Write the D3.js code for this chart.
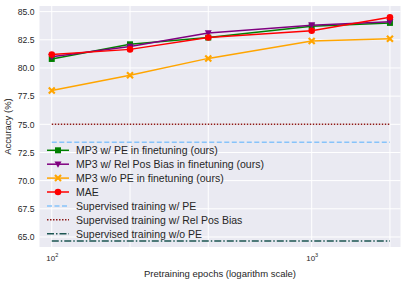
<!DOCTYPE html>
<html>
<head>
<meta charset="utf-8">
<script src="https://cdn.jsdelivr.net/npm/d3@7"></script>
<style>
  body { margin: 0; background: #fff; }
  svg { display: block; font-family: "Liberation Sans", Arial, sans-serif; }
</style>
</head>
<body>
<div id="chart"></div>
<script>
// Data
const epochs = [100, 200, 400, 1000, 2000];
const mp3WithPE = [80.8, 82.1, 82.7, 83.7, 84.0];
const mp3RelPos = [81.0, 81.9, 83.1, 83.8, 84.1];
const mp3NoPE = [78.0, 79.35, 80.85, 82.4, 82.6];
const mae = [81.2, 81.65, 82.7, 83.3, 84.5];
const supervisedPE = 73.4;
const supervisedRelPos = 75.0;
const supervisedNoPE = 64.65;
const yTicks = [65.0, 67.5, 70.0, 72.5, 75.0, 77.5, 80.0, 82.5, 85.0];

const series = [
  { name: 'MP3 w/ PE in finetuning (ours)', values: mp3WithPE, color: 'green', marker: 'square' },
  { name: 'MP3 w/ Rel Pos Bias in finetuning (ours)', values: mp3RelPos, color: 'purple', marker: 'triangleDown' },
  { name: 'MP3 w/o PE in finetuning (ours)', values: mp3NoPE, color: 'orange', marker: 'x' },
  { name: 'MAE', values: mae, color: 'red', marker: 'circle' }
];
const baselines = [
  { name: 'Supervised training w/ PE', value: supervisedPE, color: '#87c3fa', dash: '5,2.5' },
  { name: 'Supervised training w/ Rel Pos Bias', value: supervisedRelPos, color: '#8b1a1a', dash: '1.5,1.5' },
  { name: 'Supervised training w/o PE', value: supervisedNoPE, color: '#1d5652', dash: '7,2,1.5,2' }
];

const width = 407, height = 283;
const margin = { top: 6, right: 6.5, bottom: 36, left: 39.5 };
const w = width - margin.left - margin.right;
const h = height - margin.top - margin.bottom;

const svg = d3.select('#chart').append('svg')
  .attr('width', width)
  .attr('height', height);

const g = svg.append('g')
  .attr('transform', `translate(${margin.left}, ${margin.top})`);

const x = d3.scaleLog()
  .domain([89.7, 2196])
  .range([0, w]);

const y = d3.scaleLinear()
  .domain([64.11, 85.5])
  .range([h, 0]);

// Background
g.append('rect')
  .attr('width', w)
  .attr('height', h)
  .attr('fill', '#eaeaf2');

// Grid
g.selectAll('.hgrid')
  .data(yTicks)
  .enter()
  .append('line')
  .attr('x1', 0).attr('x2', w)
  .attr('y1', d => y(d)).attr('y2', d => y(d))
  .attr('stroke', '#fff')
  .attr('stroke-width', 1);

g.selectAll('.vgrid')
  .data(epochs)
  .enter()
  .append('line')
  .attr('y1', 0).attr('y2', h)
  .attr('x1', d => x(d)).attr('x2', d => x(d))
  .attr('stroke', '#fff')
  .attr('stroke-width', 1);

// Y axis labels
const yAxis = g.append('g')
  .call(d3.axisLeft(y).tickValues(yTicks).tickFormat(d3.format('.1f')).tickSize(0).tickPadding(5));
yAxis.select('.domain').remove();
yAxis.selectAll('text')
  .style('font-size', '8.6px')
  .style('fill', '#262626')
  .style('font-family', '"Liberation Sans", Arial, sans-serif');

// X axis labels (10^2, 10^3)
const xTickVals = [100, 1000];
const xAxis = g.append('g')
  .attr('transform', `translate(0, ${h})`)
  .call(d3.axisBottom(x).tickValues(xTickVals).tickFormat('').tickSize(0));
xAxis.select('.domain').remove();
xAxis.selectAll('.tick').each(function(d) {
  const t = d3.select(this).append('text')
    .attr('y', 14)
    .attr('text-anchor', 'middle')
    .style('font-size', '8px')
    .style('fill', '#262626');
  t.append('tspan').text('10');
  t.append('tspan')
    .attr('dy', -4)
    .style('font-size', '5.5px')
    .text(Math.round(Math.log10(d)));
});

// Axis titles
svg.append('text')
  .attr('x', margin.left + w / 2)
  .attr('y', 277)
  .attr('text-anchor', 'middle')
  .style('font-size', '9.5px')
  .style('fill', '#262626')
  .text('Pretraining epochs (logarithm scale)');

svg.append('text')
  .attr('transform', `translate(11, ${margin.top + h / 2}) rotate(-90)`)
  .attr('text-anchor', 'middle')
  .style('font-size', '9.5px')
  .style('fill', '#262626')
  .text('Accuracy (%)');

// Baselines
const xMin = d3.min(epochs), xMax = d3.max(epochs);
baselines.forEach(b => {
  g.append('line')
    .attr('x1', x(xMin)).attr('x2', x(xMax))
    .attr('y1', y(b.value)).attr('y2', y(b.value))
    .attr('stroke', b.color)
    .attr('stroke-width', 1.5)
    .attr('stroke-dasharray', b.dash);
});

// Markers
function drawMarker(sel, type, color, size) {
  const s = size;
  if (type === 'square') {
    sel.append('rect')
      .attr('x', -s / 2).attr('y', -s / 2)
      .attr('width', s).attr('height', s)
      .attr('fill', color);
  } else if (type === 'circle') {
    sel.append('circle').attr('r', s / 2 + 0.3).attr('fill', color);
  } else if (type === 'triangleDown') {
    const r = s / 2 + 0.5;
    sel.append('path')
      .attr('d', `M${-r},${-r * 0.8}L${r},${-r * 0.8}L0,${r}Z`)
      .attr('fill', color);
  } else if (type === 'x') {
    const r = s / 2, t = s * 0.18;
    sel.append('path')
      .attr('d', `M${-r},${-r}L${r},${r}M${-r},${r}L${r},${-r}`)
      .attr('stroke', color)
      .attr('stroke-width', t * 2)
      .attr('fill', 'none');
  }
}

const line = d3.line()
  .x(d => x(d.epoch))
  .y(d => y(d.value));

series.forEach(s => {
  const pts = epochs.map((e, i) => ({ epoch: e, value: s.values[i] }));
  g.append('path')
    .datum(pts)
    .attr('fill', 'none')
    .attr('stroke', s.color)
    .attr('stroke-width', 1.5)
    .attr('d', line);
  pts.forEach(p => {
    const m = g.append('g')
      .attr('transform', `translate(${x(p.epoch)}, ${y(p.value)})`);
    drawMarker(m, s.marker, s.color, 6);
  });
});

// Legend (no frame, seaborn darkgrid style)
const legend = svg.append('g')
  .attr('transform', 'translate(47, 150.3)');
const rowH = 13.9;
const entries = series.map(s => ({ name: s.name, color: s.color, marker: s.marker }))
  .concat(baselines.map(b => ({ name: b.name, color: b.color, dash: b.dash })));

entries.forEach((e, i) => {
  const row = legend.append('g').attr('transform', `translate(0, ${i * rowH})`);
  row.append('line')
    .attr('x1', 0).attr('x2', 22)
    .attr('stroke', e.color)
    .attr('stroke-width', 1.5)
    .attr('stroke-dasharray', e.dash || null);
  if (e.marker) {
    const m = row.append('g').attr('transform', 'translate(11, 0)');
    drawMarker(m, e.marker, e.color, 6);
  }
  row.append('text')
    .attr('x', 29)
    .attr('y', 3.8)
    .style('font-size', '10.5px')
    .style('fill', '#262626')
    .text(e.name);
});
</script>
</body>
</html>
